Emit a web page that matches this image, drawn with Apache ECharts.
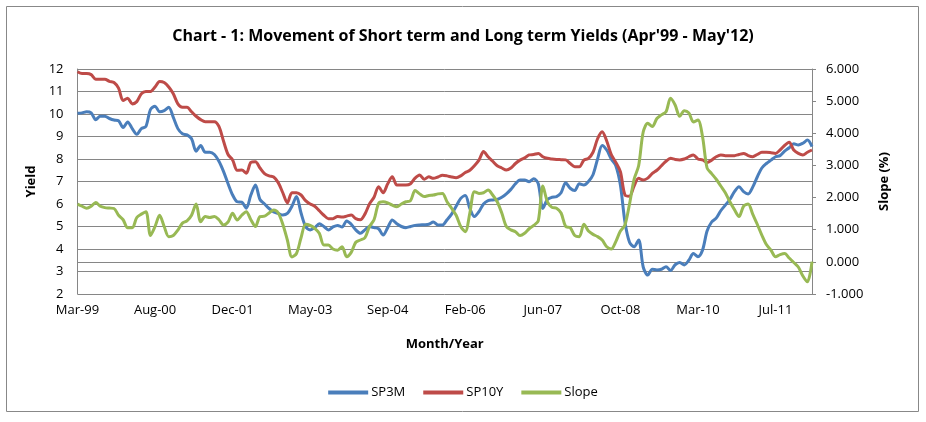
<!doctype html>
<html>
<head>
    <meta charset="utf-8">
    <title>Yields</title>
    <script src="https://cdn.jsdelivr.net/npm/echarts@6/dist/echarts.min.js"></script>
    <style>
        html, body { margin: 0; padding: 0; background: #fff; }
        #Chart { width: 926px; height: 422px; }
    </style>
</head>
<body>
    <div id="Chart"></div>
<script>
    // axis labels, one every 17 points (as in the source sheet)
    var tickLabels = ['Mar-99', 'Aug-00', 'Dec-01', 'May-03', 'Sep-04', 'Feb-06', 'Jun-07', 'Oct-08', 'Mar-10', 'Jul-11'];
    var labelStep = 17;

    var sp3m = [
        10.03, 10.05, 10.1, 10.05, 9.75, 9.9, 9.9, 9.8, 9.73, 9.7,
        9.4, 9.65, 9.35, 9.1, 9.35, 9.45, 10.2, 10.35, 10.1, 10.15,
        10.3, 9.85, 9.35, 9.12, 9.07, 8.9, 8.35, 8.6, 8.3, 8.3,
        8.2, 7.9, 7.45, 6.9, 6.4, 6.1, 6.08, 5.81, 6.4, 6.84,
        6.2, 6.0, 5.8, 5.65, 5.58, 5.51, 5.58, 5.9, 6.33, 5.6,
        5.0, 4.85, 4.95, 5.12, 5.0, 4.85, 4.98, 5.05, 4.98, 5.25,
        5.1, 4.85, 4.7, 4.85, 5.0, 4.95, 4.9, 4.62, 4.95, 5.29,
        5.12, 5.0, 4.95, 5.0, 5.05, 5.07, 5.08, 5.1, 5.2, 5.07,
        5.07, 5.3, 5.55, 5.9, 6.25, 6.38, 5.8, 5.44, 5.66, 6.0,
        6.15, 6.18, 6.2, 6.3, 6.45, 6.65, 6.9, 7.07, 7.07, 6.99,
        7.12, 6.9, 5.8, 6.2, 6.3, 6.33, 6.5, 6.95, 6.7, 6.6,
        6.9, 6.84, 7.0, 7.3, 8.0, 8.6, 8.4, 8.0, 7.7, 6.84,
        5.2, 4.3, 4.1, 4.4, 3.2, 2.84, 3.1, 3.07, 3.1, 3.21,
        3.05, 3.3, 3.4, 3.29, 3.5, 3.8, 3.66, 3.95, 4.8, 5.2,
        5.37, 5.7, 5.95, 6.2, 6.55, 6.77, 6.55, 6.45, 6.75, 7.2,
        7.6, 7.8, 7.95, 8.1, 8.15, 8.35, 8.5, 8.68, 8.62, 8.7,
        8.84, 8.55
    ];

    var sp10y = [
        11.88, 11.8, 11.8, 11.75, 11.55, 11.55, 11.55, 11.45, 11.4, 11.15,
        10.6, 10.7, 10.45, 10.55, 10.9, 11.0, 11.0, 11.2, 11.45, 11.4,
        11.2, 10.9, 10.45, 10.3, 10.3, 10.1, 9.9, 9.75, 9.66, 9.66,
        9.66, 9.45, 8.8, 8.2, 7.96, 7.5, 7.51, 7.37, 7.85, 7.88,
        7.6, 7.35, 7.25, 7.2, 6.95, 6.5, 6.05, 6.5, 6.5, 6.4,
        6.15, 6.0, 5.9, 5.7, 5.5, 5.35, 5.35, 5.44, 5.42, 5.46,
        5.51, 5.35, 5.3, 5.55, 6.0, 6.3, 6.77, 6.5, 6.9, 7.21,
        6.84, 6.84, 6.84, 6.9, 7.15, 7.29, 7.1, 7.21, 7.14, 7.2,
        7.28, 7.25, 7.2, 7.17, 7.25, 7.4, 7.5, 7.7, 7.95, 8.33,
        8.1, 7.9, 7.7, 7.6, 7.51, 7.6, 7.8, 7.95, 8.05, 8.18,
        8.2, 8.25, 8.1, 8.03, 8.0, 7.98, 7.97, 7.96, 7.8, 7.66,
        7.66, 7.95, 8.03, 8.3, 8.9, 9.21, 8.8, 8.2, 7.85, 7.44,
        6.4, 6.35, 6.8, 7.14, 7.07, 7.15, 7.36, 7.5, 7.7, 7.9,
        8.03, 7.98, 7.96, 8.0, 8.1, 8.18, 8.0, 7.96, 7.85, 7.95,
        8.1, 8.18, 8.15, 8.15, 8.15, 8.2, 8.25, 8.15, 8.1, 8.2,
        8.3, 8.3, 8.28, 8.25, 8.4, 8.6, 8.74, 8.4, 8.25, 8.18,
        8.3, 8.4
    ];

    var slope = [
        1.793, 1.73, 1.667, 1.73, 1.849, 1.73, 1.688, 1.674, 1.66, 1.45,
        1.31, 1.065, 1.065, 1.38, 1.485, 1.562, 0.82, 1.10, 1.45, 1.10,
        0.785, 0.82, 0.988, 1.205, 1.275, 1.45, 1.80, 1.247, 1.408, 1.38,
        1.408, 1.31, 1.149, 1.24, 1.513, 1.303, 1.45, 1.562, 1.31, 1.10,
        1.408, 1.422, 1.52, 1.611, 1.52, 1.17, 0.68, 0.155, 0.26, 0.75,
        1.17, 1.135, 1.044, 0.89, 0.526, 0.526, 0.40, 0.365, 0.47, 0.162,
        0.295, 0.61, 0.68, 0.75, 1.10, 1.31, 1.821, 1.87, 1.835, 1.765,
        1.716, 1.80, 1.87, 1.905, 2.22, 2.115, 2.031, 2.066, 2.08, 2.115,
        2.129, 1.87, 1.667, 1.45, 1.10, 0.939, 1.52, 2.185, 2.129, 2.15,
        2.234, 2.08, 1.87, 1.52, 1.10, 0.995, 0.939, 0.82, 0.89, 1.03,
        1.135, 1.275, 2.36, 1.87, 1.695, 1.667, 1.52, 1.10, 1.065, 0.82,
        0.785, 1.17, 0.96, 0.855, 0.785, 0.68, 0.47, 0.40, 0.631, 0.96,
        1.149, 1.80, 2.57, 2.99, 4.04, 4.313, 4.208, 4.46, 4.572, 4.67,
        5.09, 4.88, 4.53, 4.705, 4.635, 4.355, 4.411, 3.90, 2.92, 2.745,
        2.57, 2.36, 2.15, 1.87, 1.625, 1.408, 1.73, 1.80, 1.485, 1.17,
        0.834, 0.54, 0.365, 0.162, 0.225, 0.26, 0.12, -0.02, -0.16, -0.44,
        -0.622, 0.008
    ];

    var points = [];
    for (var i = 0; i < sp3m.length; i++) {
        points.push(String(i));
    }

    var font = '"Open Sans", "Liberation Sans", sans-serif';
    var gridColor = '#868686';

    var myChart = echarts.init(document.getElementById('Chart'));
    var option = {
        animation: false,
        color: ['#4A7EBB', '#BE4B48', '#98B954'],
        textStyle: { fontFamily: font, color: '#000' },
        graphic: [{
            type: 'rect',
            shape: { x: 6.5, y: 6.5, width: 912, height: 405 },
            style: { fill: 'none', stroke: '#888', lineWidth: 1 }
        }],
        title: {
            text: "Chart - 1: Movement of Short term and Long term Yields (Apr'99 - May'12)",
            left: 'center',
            top: 23,
            textStyle: { fontFamily: font, fontSize: 16, fontWeight: 'bold', color: '#000' }
        },
        legend: {
            bottom: 18,
            left: 'center',
            itemWidth: 40,
            itemHeight: 4,
            itemGap: 18,
            icon: 'rect',
            textStyle: { fontFamily: font, fontSize: 13, color: '#000', padding: [0, 0, 0, -2] },
            data: ['SP3M', 'SP10Y', 'Slope']
        },
        grid: { left: 77.5, right: 114, top: 69, bottom: 128 },
        xAxis: {
            type: 'category',
            data: points,
            boundaryGap: false,
            name: 'Month/Year',
            nameLocation: 'middle',
            nameGap: 44,
            nameTextStyle: { fontFamily: font, fontSize: 13, fontWeight: 'bold', color: '#000' },
            axisLine: { lineStyle: { color: gridColor } },
            axisTick: { show: false },
            axisLabel: {
                interval: labelStep - 1,
                color: '#000',
                fontSize: 13,
                margin: 10,
                formatter: function (v, idx) {
                    return tickLabels[Math.round(idx / labelStep)] || '';
                }
            }
        },
        yAxis: [{
            type: 'value',
            min: 2,
            max: 12,
            interval: 1,
            name: 'Yield',
            nameLocation: 'middle',
            nameGap: 40,
            nameRotate: 90,
            nameTextStyle: { fontFamily: font, fontSize: 13, fontWeight: 'bold', color: '#000' },
            axisLine: { show: true, lineStyle: { color: gridColor } },
            axisTick: { show: false },
            axisLabel: { color: '#000', fontSize: 13, margin: 14 },
            splitLine: { lineStyle: { color: gridColor, width: 1 } }
        }, {
            type: 'value',
            min: -1,
            max: 6,
            interval: 1,
            name: 'Slope (%)',
            nameLocation: 'middle',
            nameGap: 66,
            nameRotate: 90,
            nameTextStyle: { fontFamily: font, fontSize: 13, fontWeight: 'bold', color: '#000' },
            axisLine: { show: true, lineStyle: { color: gridColor } },
            axisTick: { show: true, length: 4, lineStyle: { color: gridColor } },
            axisLabel: {
                color: '#000', fontSize: 13, margin: 14,
                formatter: function (v) { return v.toFixed(3); }
            },
            splitLine: { show: false }
        }],
        series: [{
            name: 'SP3M',
            type: 'line',
            data: sp3m,
            smooth: 0.3,
            symbol: 'none',
            lineStyle: { width: 3 }
        }, {
            name: 'SP10Y',
            type: 'line',
            data: sp10y,
            smooth: 0.3,
            symbol: 'none',
            lineStyle: { width: 3 }
        }, {
            name: 'Slope',
            type: 'line',
            yAxisIndex: 1,
            data: slope,
            smooth: 0.3,
            symbol: 'none',
            lineStyle: { width: 3 }
        }]
    };
    myChart.setOption(option);
</script>
</body>
</html>
